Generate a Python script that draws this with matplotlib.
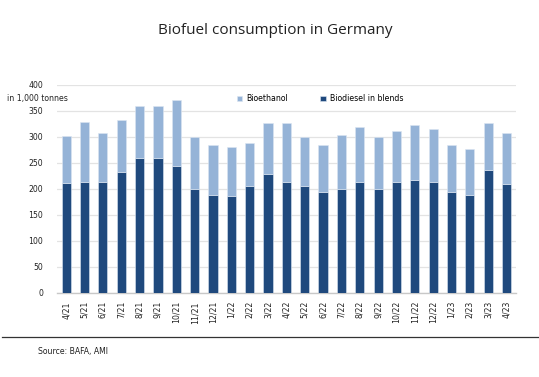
import numpy as np
from matplotlib import pyplot as plt

months = ['4/21', '5/21', '6/21', '7/21', '8/21', '9/21', '10/21', '11/21', '12/21',
          '1/22', '2/22', '3/22', '4/22', '5/22', '6/22', '7/22', '8/22', '9/22',
          '10/22', '11/22', '12/22', '1/23', '2/23', '3/23', '4/23']
biodiesel = [211, 213, 213, 233, 260, 259, 244, 200, 188,
             186, 205, 228, 212, 205, 194, 199, 212, 199,
             213, 217, 213, 194, 188, 236, 209]
total = [302, 328, 307, 332, 360, 359, 371, 300, 284,
         281, 288, 327, 326, 299, 285, 303, 318, 299,
         311, 322, 314, 285, 276, 326, 308]
bioethanol = [t - d for t, d in zip(total, biodiesel)]

dark_blue = '#1f497d'
light_blue = '#95b3d7'
small = 5.6

fig = plt.figure(figsize=(5.39, 3.77), dpi=100)
ax = fig.add_axes([0.1058, 0.2236, 0.851, 0.5517])

x = np.arange(len(months))
ax.bar(x, biodiesel, width=0.5, color=dark_blue, edgecolor='#dce6f2', linewidth=0.4,
       label='Biodiesel in blends', zorder=3)
ax.bar(x, bioethanol, width=0.5, bottom=biodiesel, color=light_blue, edgecolor='#dce6f2',
       linewidth=0.4, label='Bioethanol', zorder=3)

ax.set_xlim(-0.5, len(months) - 0.5)
ax.set_ylim(0, 400)
ax.set_yticks(range(0, 401, 50))
ax.set_xticks(x)
ax.set_xticklabels(months, rotation=90)
ax.tick_params(axis='both', length=0, labelsize=small, colors='#222222')
ax.tick_params(axis='y', pad=10)
ax.tick_params(axis='x', pad=6)
ax.grid(axis='y', color='#e3e3e3', linewidth=0.9, zorder=0)
for s in ['left', 'right', 'top']:
    ax.spines[s].set_visible(False)
ax.spines['bottom'].set_color('#c8c8c8')
ax.spines['bottom'].set_linewidth(1.0)

h, l = ax.get_legend_handles_labels()
ax.legend(h[::-1], l[::-1], ncol=2, loc='center left', bbox_to_anchor=(0.385, 0.933),
          frameon=False, fontsize=small, handlelength=0.7, handleheight=0.7,
          handletextpad=0.5, columnspacing=4.2, borderaxespad=0)

fig.text(0.013, 1 - 98 / 377, 'in 1,000 tonnes', fontsize=small, va='center', ha='left',
         color='#222222')
fig.text(0.51, 1 - 30.5 / 377, 'Biofuel consumption in Germany', fontsize=11,
         family='Open Sans', ha='center', va='center', color='#222222')

fig.add_artist(plt.Line2D([0.004, 1.0], [1 - 336.7 / 377] * 2, color='#333333',
                          linewidth=0.9, transform=fig.transFigure))
fig.text(38 / 539, 1 - 351.5 / 377, 'Source: BAFA, AMI', fontsize=small, va='center',
         ha='left', color='#222222')

fig.savefig('out.png', dpi=100)
